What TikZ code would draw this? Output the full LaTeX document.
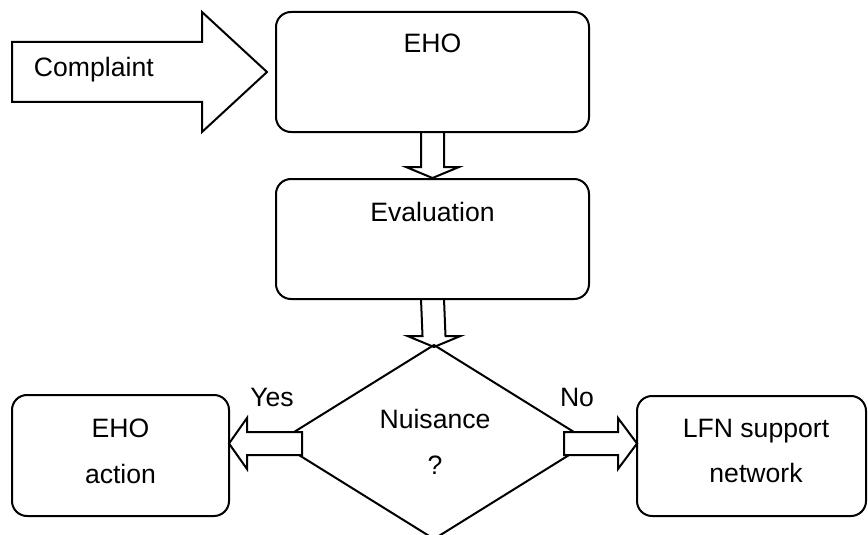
\documentclass[tikz,border=0pt]{standalone}
\usepackage{fontspec}
\setmainfont{Liberation Sans}
\usetikzlibrary{shapes.geometric,calc}
\tikzset{
  box/.style={draw, rectangle, rounded corners=15pt, outer sep=0pt, inner sep=0pt},
  dia/.style={draw, diamond, outer sep=0pt, inner sep=0pt, minimum width=312pt, minimum height=194pt},
  lbl/.style={inner sep=0pt, anchor=base},
  blk/.style={draw, fill=white, line join=miter},
}
\begin{document}
\begin{tikzpicture}[x=1pt, y=-1pt, line width=2pt, font=\fontsize{26.6}{31}\selectfont]
\useasboundingbox (0,0) rectangle (868,535);
% boxes
\node[box, minimum width=313pt, minimum height=120pt] (eho) at (432.5,72) {};
\node[box, minimum width=313pt, minimum height=120pt] (eval) at (432.5,239) {};
\node[dia] (nui) at (434,442) {};
\node[box, minimum width=217pt, minimum height=121pt] (act) at (120.5,455.5) {};
\node[box, minimum width=229pt, minimum height=120pt] (lfn) at (751.5,456) {};
% texts
\node[lbl] (tEho) at (432.5,53) {EHO};
\node[lbl] (tEval) at (432.5,221) {Evaluation};
\node[lbl] (tNui) at (435,428) {Nuisance};
\node[lbl] (tQ) at (435,474) {?};
\node[lbl] (tAct1) at (120.5,437) {EHO};
\node[lbl] (tAct2) at (120.5,483) {action};
\node[lbl] (tLfn1) at (756,437) {LFN support};
\node[lbl] (tLfn2) at (756,482) {network};
\node[lbl] (tYes) at (272,406) {Yes};
\node[lbl] (tNo) at (577,406) {No};
% complaint arrow
\coordinate (ct) at ($(eho.west)+(-9,0)$);
\draw[blk] (ct) -- ++(-65,-60) -- ++(0,30) -- ++(-190,0) -- ++(0,60) -- ++(190,0) -- ++(0,30) -- cycle;
\node[inner sep=0pt, anchor=base west] (tComp) at (33,77) {Complaint};
% down arrow EHO -> Evaluation
\draw ($(eho.south)+(-11.5,0)$) -- ($(eval.north)+(-11.5,-12)$) -- ($(eval.north)+(-26.5,-12)$)
  -- ($(eval.north)+(0,-1)$) -- ($(eval.north)+(26.5,-12)$) -- ($(eval.north)+(11.5,-12)$)
  -- ($(eho.south)+(11.5,0)$);
% down arrow Evaluation -> Nuisance
\draw ($(eval.south)+(-11.5,0)$) -- ($(nui.north)+(-11.5,-9)$) -- ($(nui.north)+(-26.5,-9)$)
  -- ($(nui.north)+(0,2)$) -- ($(nui.north)+(26.5,-9)$) -- ($(nui.north)+(11.5,-9)$)
  -- ($(eval.south)+(11.5,0)$);
% Yes arrow
\coordinate (yt) at ($(act.east |- nui.west)+(0,1.5)$);
\coordinate (ytail) at ($(nui.west)+(24,1.5)$);
\draw[blk] (yt) -- ++(18,-25.5) -- ++(0,14) -- ($(ytail)+(0,-11.5)$) -- ($(ytail)+(0,11.5)$)
  -- ($(yt)+(18,11.5)$) -- ++(0,14) -- cycle;
% No arrow
\coordinate (nt) at ($(lfn.west |- nui.east)+(0,1.5)$);
\coordinate (ntail) at ($(nui.east)+(-26,1.5)$);
\draw[blk] (nt) -- ++(-19,-25.5) -- ++(0,14) -- ($(ntail)+(0,-11.5)$) -- ($(ntail)+(0,11.5)$)
  -- ($(nt)+(-19,11.5)$) -- ++(0,14) -- cycle;
\end{tikzpicture}
\end{document}
